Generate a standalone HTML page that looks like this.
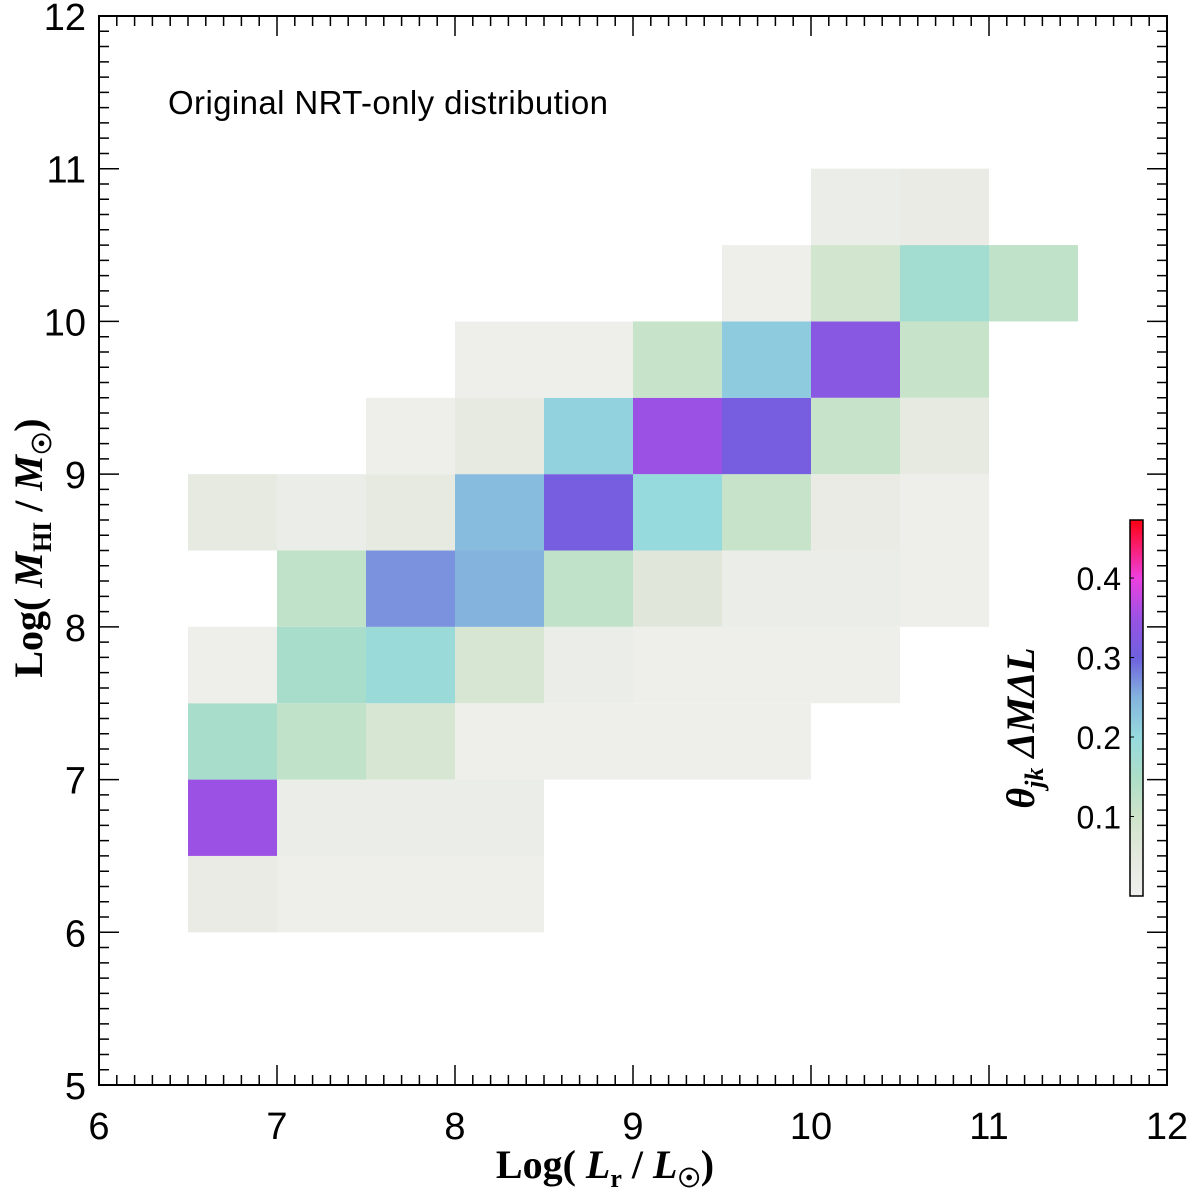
<!DOCTYPE html>
<html><head><meta charset="utf-8"><style>
html,body{margin:0;padding:0;background:#fff;}
svg{display:block;font-family:"Liberation Sans",sans-serif;}
</style></head><body>
<svg id="chart" width="1200" height="1196" viewBox="0 0 1200 1196" xmlns="http://www.w3.org/2000/svg">
<g id="cells"></g>
<g id="axes"></g>
<text x="168" y="114" font-size="33" textLength="440" fill="#000">Original NRT-only distribution</text>
<text x="605" y="1178" text-anchor="middle" font-family="Liberation Serif,serif" font-weight="bold" font-size="40">Log( <tspan font-style="italic">L</tspan><tspan font-size="26" dy="9">r</tspan><tspan dy="-9"> / </tspan><tspan font-style="italic">L</tspan><tspan font-size="26" dy="9">☉</tspan><tspan dy="-9">)</tspan></text>
<text transform="translate(42,548) rotate(-90)" text-anchor="middle" font-family="Liberation Serif,serif" font-weight="bold" font-size="40">Log( <tspan font-style="italic">M</tspan><tspan font-size="26" dy="9">HI</tspan><tspan dy="-9"> / </tspan><tspan font-style="italic">M</tspan><tspan font-size="26" dy="9">☉</tspan><tspan dy="-9">)</tspan></text>
<g id="cbar"></g>
<text transform="translate(1034,728) rotate(-90)" text-anchor="middle" font-family="Liberation Serif,serif" font-weight="bold" font-style="italic" font-size="40">θ<tspan font-size="26" dy="9">jk</tspan><tspan dy="-9"> ΔMΔL</tspan></text>
</svg>
<script>
// data: bins as [xStart, yStart, value]
const binX = [6.5,6.5,6.5,6.5,6.5, 7,7,7,7,7,7, 7.5,7.5,7.5,7.5,7.5,7.5,7.5, 8,8,8,8,8,8,8,8, 8.5,8.5,8.5,8.5,8.5,8.5, 9,9,9,9,9,9, 9.5,9.5,9.5,9.5,9.5,9.5,9.5, 10,10,10,10,10,10,10, 10.5,10.5,10.5,10.5,10.5,10.5, 11];
const binY = [6,6.5,7,7.5,8.5, 6,6.5,7,7.5,8,8.5, 6,6.5,7,7.5,8,8.5,9, 6,6.5,7,7.5,8,8.5,9,9.5, 7,7.5,8,8.5,9,9.5, 7,7.5,8,8.5,9,9.5, 7,7.5,8,8.5,9,9.5,10, 7.5,8,8.5,9,9.5,10,10.5, 8,8.5,9,9.5,10,10.5, 10];
const binVal = [0.03,0.35,0.16,0.01,0.04, 0.01,0.02,0.12,0.16,0.12,0.02, 0.01,0.02,0.08,0.19,0.27,0.04,0.01, 0.01,0.02,0.01,0.08,0.25,0.24,0.04,0.01, 0.01,0.02,0.12,0.31,0.21,0.01, 0.01,0.01,0.06,0.2,0.35,0.11, 0.01,0.01,0.02,0.11,0.31,0.22,0.01, 0.01,0.02,0.03,0.11,0.33,0.09,0.02, 0.01,0.01,0.04,0.11,0.17,0.03, 0.12];
const xTicks = [6,7,8,9,10,11,12];
const yTicks = [5,6,7,8,9,10,11,12];
const cbTicks = [0.1,0.2,0.3,0.4];

const NS='http://www.w3.org/2000/svg';
const X0=99,X1=1167,Y0=1085,Y1=16;
const sx=v=>X0+(v-6)/6*(X1-X0);
const sy=v=>Y0-(v-5)/7*(Y0-Y1);
const CB0=896,CBtop=520,CBmax=0.473;
const sc=v=>CB0-v/CBmax*(CB0-CBtop);
const stops=[[0,[240,240,238]],[0.05,[228,232,222]],[0.1,[206,228,202]],[0.15,[172,222,200]],[0.2,[150,218,222]],[0.25,[132,180,222]],[0.3,[110,96,222]],[0.35,[155,82,228]],[0.4,[238,64,224]],[0.473,[255,0,16]]];
function cmap(v){
  for(let i=1;i<stops.length;i++){ if(v<=stops[i][0]){const a=stops[i-1],b=stops[i];const t=(v-a[0])/(b[0]-a[0]);
    return 'rgb('+a[1].map((c,k)=>Math.round(c+(b[1][k]-c)*t)).join(',')+')';}}
  return 'rgb(255,0,16)';
}
function mk(tag,attrs,parent){const e=document.createElementNS(NS,tag);for(const k in attrs)e.setAttribute(k,attrs[k]);parent.appendChild(e);return e;}
const cells=document.getElementById('cells');
binX.forEach((bx,i)=>{
  const r=mk('rect',{x:sx(bx),y:sy(binY[i]+0.5),width:sx(bx+0.5)-sx(bx),height:sy(binY[i])-sy(binY[i]+0.5),fill:cmap(binVal[i])},cells);
  
  
});
const ax=document.getElementById('axes');
const frame=mk('rect',{x:X0,y:Y1,width:X1-X0,height:Y0-Y1,fill:'none',stroke:'#000','stroke-width':2},ax);


let d='';
for(let i=0;i<=60;i++){const v=6+i*0.1;const L=(i%10===0)?20:10;const x=sx(v);d+=`M${x} ${Y0}v${-L}M${x} ${Y1}v${L}`;}
for(let i=0;i<=70;i++){const v=5+i*0.1;const L=(i%10===0)?20:10;const y=sy(v);d+=`M${X0} ${y}h${L}M${X1} ${y}h${-L}`;}
const tk=mk('path',{d:d,stroke:'#000','stroke-width':1.5,fill:'none'},ax);


xTicks.forEach(v=>{const t=mk('text',{x:sx(v),y:1139,'text-anchor':'middle','font-size':38},ax);t.textContent=v;
  
  });
yTicks.forEach(v=>{const t=mk('text',{x:86,y:sy(v)+14,'text-anchor':'end','font-size':38},ax);t.textContent=v;
  
  });
const cb=document.getElementById('cbar');
const defs=mk('defs',{},cb);
const g=mk('linearGradient',{id:'cg',x1:0,y1:1,x2:0,y2:0},defs);
stops.forEach(s=>mk('stop',{offset:s[0]/CBmax,'stop-color':cmap(Math.min(s[0],0.4729))},g));
const cr=mk('rect',{x:1130,y:CBtop,width:13,height:CB0-CBtop,fill:'url(#cg)',stroke:'#000','stroke-width':1.5},cb);


cbTicks.forEach(v=>{
  const l=mk('line',{x1:1130,x2:1134,y1:sc(v),y2:sc(v),stroke:'#000','stroke-width':1},cb);
  
  
  const t=mk('text',{x:1121,y:sc(v)+12,'text-anchor':'end','font-size':32},cb);t.textContent=v.toFixed(1);
  
  
});
</script>
</body></html>
